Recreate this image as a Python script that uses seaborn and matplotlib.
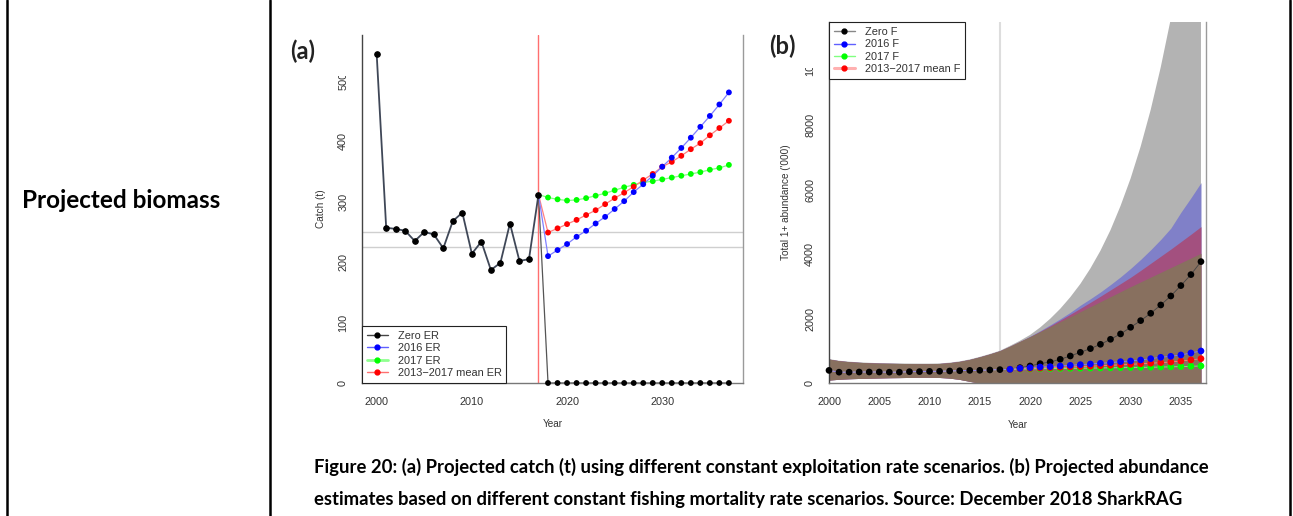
import numpy as np
import pandas as pd
import matplotlib
matplotlib.use("Agg")
import matplotlib.pyplot as plt
from matplotlib.lines import Line2D
from matplotlib.patches import Rectangle
import seaborn as sns

# ---------------- data ----------------
years_hist = list(range(2000, 2018))
years_proj = list(range(2018, 2038))

# (a) catch (t)
catch_hist = [545, 257, 255, 252, 235, 250, 246, 223, 268, 282, 214, 234, 187, 199, 264, 202, 205, 312]
catch_zero_er = [0, 0, 0, 0, 0, 0, 0, 0, 0, 0, 0, 0, 0, 0, 0, 0, 0, 0, 0, 0]
catch_2016_er = [210, 220, 230, 242, 252, 264, 275, 288, 301, 316, 329, 343, 358, 373, 389, 406, 424, 442, 461, 481]
catch_2017_er = [307, 304, 302, 303, 306, 310, 314, 319, 324, 328, 332, 334, 337, 340, 343, 346, 349, 353, 356, 361]
catch_mean_er = [249, 256, 263, 270, 278, 286, 296, 306, 315, 325, 336, 346, 358, 366, 376, 387, 397, 410, 422, 434]
ref_levels = [250, 225]
labels_a = ["Zero ER", "2016 ER", "2017 ER", "2013\u22122017 mean ER"]

# (b) abundance ('000)
abund_hist = [400, 345, 345, 350, 350, 350, 345, 345, 360, 362, 370, 372, 382, 390, 400, 403, 413, 424]
abund_zero_f = [434, 485, 537, 609, 661, 744, 847, 961, 1075, 1209, 1364, 1530, 1736, 1943, 2170, 2428, 2707, 3029, 3370, 3772]
abund_2016_f = [434, 464, 485, 506, 516, 537, 558, 578, 599, 620, 640, 671, 692, 723, 764, 806, 837, 878, 940, 1002]
abund_2017_f = [434, 440, 447, 452, 456, 460, 464, 468, 472, 476, 480, 484, 488, 493, 498, 504, 510, 518, 527, 537]
abund_mean_f = [434, 450, 462, 473, 484, 495, 506, 518, 530, 543, 557, 572, 588, 605, 622, 640, 660, 690, 725, 764]

band_hist_upper = [750, 700, 670, 650, 635, 625, 620, 615, 612, 610, 610, 615, 640, 680, 740, 820, 910, 1010]
band_hist_lower = [100, 125, 140, 150, 158, 165, 172, 176, 182, 186, 186, 180, 160, 120, 60, 0, 0, 0]
band_proj_lower = [0, 0, 0, 0, 0, 0, 0, 0, 0, 0, 0, 0, 0, 0, 0, 0, 0, 0, 0, 0]
upper_zero_f = [1160, 1320, 1500, 1730, 2000, 2310, 2670, 3080, 3560, 4110, 4750, 5500, 6350, 7340, 8480, 9800, 11300, 13100, 15100, 17500]
upper_2016_f = [1150, 1300, 1460, 1630, 1810, 2000, 2200, 2420, 2620, 2830, 3060, 3300, 3560, 3840, 4140, 4460, 4810, 5300, 5750, 6220]
upper_mean_f = [1150, 1300, 1446, 1610, 1780, 1960, 2140, 2324, 2510, 2700, 2895, 3090, 3287, 3500, 3720, 3940, 4160, 4390, 4620, 4857]
upper_2017_f = [1150, 1300, 1446, 1600, 1755, 1910, 2065, 2221, 2376, 2531, 2686, 2841, 2996, 3144, 3292, 3440, 3588, 3736, 3884, 4031]
labels_b = ["Zero F", "2016 F", "2017 F", "2013\u22122017 mean F"]

# ---------------- style ----------------
sns.set_style("white")
plt.rcParams["font.family"] = ["Liberation Sans", "DejaVu Sans"]
W, H = 1293, 516
fig = plt.figure(figsize=(W / 100, H / 100), dpi=100)
fig.patch.set_facecolor("white")

def fx(x):
    return x / W

def fy(y):
    return 1 - y / H

TXT = "#333333"
MS = 4.0
TICK_FS = 7.8
LAB_FS = 7.2

def style_axes(ax):
    ax.spines["top"].set_visible(False)
    ax.spines["left"].set_color("#444444")
    ax.spines["bottom"].set_color("#777777")
    ax.spines["right"].set_color("#9a9a9a")
    for s in ("left", "bottom", "right"):
        ax.spines[s].set_linewidth(1.0)
    ax.tick_params(axis="both", direction="out", length=5, width=0.8, color="#555555",
                   labelsize=TICK_FS, labelcolor=TXT, pad=5)
    ax.tick_params(axis="y", labelrotation=90)
    for lab in ax.get_yticklabels():
        lab.set_va("center")
    ax.set_facecolor("white")

def make_legend(ax, handles, labels, loc):
    lg = ax.legend(handles, labels, loc=loc, borderaxespad=0, fontsize=7.9,
                   frameon=True, fancybox=False, edgecolor="#222222", framealpha=1,
                   labelspacing=0.22, borderpad=0.45, handlelength=1.9, handletextpad=0.9)
    lg.get_frame().set_linewidth(0.8)
    for t in lg.get_texts():
        t.set_color(TXT)
    lg.set_zorder(10)
    return lg

# ---------------- panel (a) ----------------
axa = fig.add_axes([fx(362), fy(383), fx(742.7 - 362), (383 - 35) / H])
axa.set_xlim(1998.46, 2038.45)
axa.set_ylim(0, 576)

for lv in ref_levels:
    axa.axhline(lv, color="#cfcfcf", lw=1.0, zorder=1)
axa.axvline(2017, color="#ff6f6f", lw=1.0, zorder=1)

df_hist = pd.DataFrame({"Year": years_hist, "Catch": catch_hist})
sns.lineplot(data=df_hist, x="Year", y="Catch", ax=axa, color="#3f4757", lw=1.3,
             marker="o", markersize=MS, markerfacecolor="black", markeredgecolor="black",
             zorder=4, legend=False)

proj_a = [(catch_zero_er, "black", "#555555"),
          (catch_2017_er, "#00ff00", "#80ff80"),
          (catch_mean_er, "#ff0000", "#ff8080"),
          (catch_2016_er, "#0000ff", "#8080ff")]
for vals, mc, lc in proj_a:
    d = pd.DataFrame({"Year": [years_hist[-1]] + years_proj, "Catch": [catch_hist[-1]] + vals})
    sns.lineplot(data=d, x="Year", y="Catch", ax=axa, color=lc, lw=0.9, zorder=3, legend=False)
    dp = pd.DataFrame({"Year": years_proj, "Catch": vals})
    sns.scatterplot(data=dp, x="Year", y="Catch", ax=axa, color=mc, s=MS ** 2 * 1.1,
                    edgecolor="none", zorder=5, clip_on=False, legend=False)

axa.set_xticks([2000, 2010, 2020, 2030])
axa.set_yticks([0, 100, 200, 300, 400, 500])
axa.set_xlabel("Year", fontsize=LAB_FS, color=TXT, labelpad=9)
axa.set_ylabel("Catch (t)", fontsize=LAB_FS, color=TXT, labelpad=9)
style_axes(axa)

hnd_a = [Line2D([], [], color="#444444", lw=1, marker="o", ms=3.5, mfc="black", mec="black"),
         Line2D([], [], color="#6060ff", lw=1, marker="o", ms=3.5, mfc="#0000ff", mec="#0000ff"),
         Line2D([], [], color="#90ff90", lw=2, marker="o", ms=3.5, mfc="#00ff00", mec="#00ff00"),
         Line2D([], [], color="#ff7070", lw=1, marker="o", ms=3.5, mfc="#ff0000", mec="#ff0000")]
make_legend(axa, hnd_a, labels_a, "lower left")

# ---------------- panel (b) ----------------
axb = fig.add_axes([fx(829), fy(383.3), fx(1206 - 829), (383.3 - 22) / H])
axb.set_xlim(2000, 2037.5)
axb.set_ylim(0, 11200)

yrs_all = years_hist + years_proj
bands = [(upper_zero_f, "#b3b3b3"), (upper_2016_f, "#8080c8"),
         (upper_mean_f, "#a3507f"), (upper_2017_f, "#88705f")]
for up, col in bands:
    axb.fill_between(yrs_all, band_hist_lower + band_proj_lower, band_hist_upper + up,
                     color=col, lw=0, zorder=1)
axb.axvline(2017, color="#dddddd", lw=1.5, zorder=0.5)

proj_b = [(abund_zero_f, "black", "#444444"),
          (abund_2017_f, "#00ff00", "#80ff80"),
          (abund_mean_f, "#ff0000", "#ff8080"),
          (abund_2016_f, "#0000ff", "#8080ff")]
for vals, mc, lc in proj_b:
    d = pd.DataFrame({"Year": yrs_all, "N": abund_hist + vals})
    sns.lineplot(data=d, x="Year", y="N", ax=axb, color=lc, lw=0.6, zorder=3, legend=False)
    dp = pd.DataFrame({"Year": years_proj, "N": vals})
    sns.scatterplot(data=dp, x="Year", y="N", ax=axb, color=mc, s=4.6 ** 2 * 1.1,
                    edgecolor="none", zorder=5, clip_on=False, legend=False)
dh = pd.DataFrame({"Year": years_hist, "N": abund_hist})
sns.scatterplot(data=dh, x="Year", y="N", ax=axb, color="black", s=4.6 ** 2 * 1.1,
                edgecolor="none", zorder=6, clip_on=False, legend=False)

axb.set_xticks(list(range(2000, 2036, 5)))
axb.set_yticks([0, 2000, 4000, 6000, 8000, 10000])
axb.set_xlabel("Year", fontsize=LAB_FS, color=TXT, labelpad=9)
axb.set_ylabel("Total 1+ abundance ('000)", fontsize=LAB_FS, color=TXT, labelpad=10)
style_axes(axb)

hnd_b = [Line2D([], [], color="#888888", lw=1, marker="o", ms=3.5, mfc="black", mec="black"),
         Line2D([], [], color="#6060ff", lw=1, marker="o", ms=3.5, mfc="#0000ff", mec="#0000ff"),
         Line2D([], [], color="#80ff80", lw=1, marker="o", ms=3.5, mfc="#00ff00", mec="#00ff00"),
         Line2D([], [], color="#ffb0b0", lw=2.2, marker="o", ms=3.5, mfc="#ff0000", mec="#ff0000")]
make_legend(axb, hnd_b, labels_b, "upper left")

# white patches that hide the top of the clipped tick labels (as in the source image)
fig.add_artist(Rectangle((fx(280), fy(76)), fx(355 - 280), 76 / H, transform=fig.transFigure,
                         facecolor="white", edgecolor="none", zorder=20))
fig.add_artist(Rectangle((fx(760), fy(68)), fx(822 - 760), 68 / H, transform=fig.transFigure,
                         facecolor="white", edgecolor="none", zorder=20))

# panel letters
fig.text(fx(290), fy(51), "(a)", fontsize=17, fontweight="bold", family=["Lato", "DejaVu Sans"],
         color="#222222", va="center", ha="left", zorder=30)
fig.text(fx(769), fy(46), "(b)", fontsize=17, fontweight="bold", family=["Lato", "DejaVu Sans"],
         color="#222222", va="center", ha="left", zorder=30)

# table text
fig.text(fx(22), fy(200), "Projected biomass", fontsize=17.5, fontweight="bold",
         family=["Lato", "DejaVu Sans"], color="black", va="center", ha="left")
fig.text(fx(314), fy(467),
         "Figure 20: (a) Projected catch (t) using different constant exploitation rate scenarios. (b) Projected abundance",
         fontsize=13.3, fontweight="bold", family=["Lato", "DejaVu Sans"], color="black", va="center", ha="left")
fig.text(fx(314), fy(500),
         "estimates based on different constant fishing mortality rate scenarios. Source: December 2018 SharkRAG",
         fontsize=13.3, fontweight="bold", family=["Lato", "DejaVu Sans"], color="black", va="center", ha="left")

# table borders
for xb in (7, 270, 1290):
    fig.add_artist(Line2D([fx(xb), fx(xb)], [0, 1], transform=fig.transFigure, color="black", lw=1.8))

fig.savefig("out.png", dpi=100, facecolor="white")
